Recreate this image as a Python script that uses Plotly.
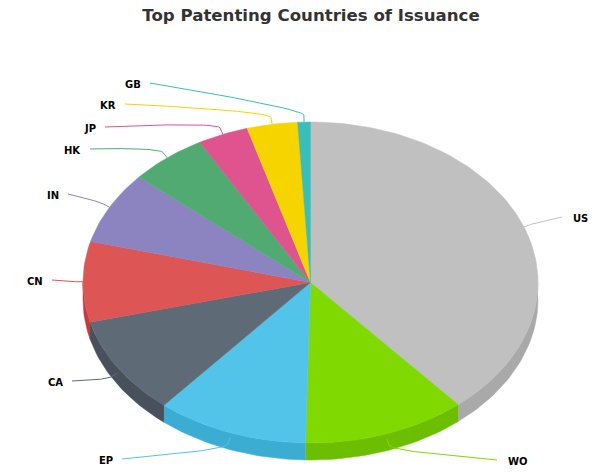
import numpy as np
import plotly.graph_objects as go

# Patents by country of issuance (share of the top ten)
countries = ["US", "WO", "EP", "CA", "CN", "IN", "HK", "JP", "KR", "GB"]
patents = [388, 116, 108, 99, 81, 73, 55, 36, 36, 9]

face_colors = ["#c0c0c0", "#80d900", "#52c4e9", "#5f6a77", "#dd5555",
               "#8b84c1", "#52aa73", "#df538e", "#f5d400", "#3bbdb9"]
wall_colors = ["#a9a9a9", "#6cbf00", "#3cadd2", "#48505b", "#c23c3c",
               "#7770ab", "#3f915e", "#c43f77", "#d8b900", "#2da3a0"]

# ---- canvas and tilted-pie projection -------------------------------------
W, H = 598, 472
CX, CY = 310.5, 282.5        # pie centre (px)
RX, RY = 227.5, 160.5        # projected radii (px)
DEPTH_PX = 17                # thickness of the pie (px)

x_range = [-CX / RX, (W - CX) / RX]
y_range = [-(H - CY) / RY, CY / RY]
depth = DEPTH_PX / RY


def px_to_data(px, py):
    return (px - CX) / RX, (CY - py) / RY


def data_to_px(x, y):
    return CX + x * RX, CY - y * RY


# label placement: connector start (px) and side of the text
label_layout = {
    "US": (562, 217, "right"),
    "WO": (497, 460, "right"),
    "EP": (122, 459, "left"),
    "CA": (72, 381, "left"),
    "CN": (52, 280, "left"),
    "IN": (68, 194, "left"),
    "HK": (90, 149, "left"),
    "JP": (105, 127, "left"),
    "KR": (125, 104, "left"),
    "GB": (150, 83, "left"),
}

# ---- slice angles (clockwise from 12 o'clock) -----------------------------
vals = np.array(patents, dtype=float)
frac = vals / vals.sum()
ends = np.cumsum(frac) * 2 * np.pi
starts = ends - frac * 2 * np.pi

fig = go.Figure()


def arc(a0, a1, n=120):
    t = np.linspace(a0, a1, max(4, int(n * (a1 - a0) / np.pi) + 4))
    return np.sin(t), np.cos(t)


# side walls (front half only: angles between 90 and 270 degrees)
for name, a0, a1, col in zip(countries, starts, ends, wall_colors):
    lo, hi = max(a0, np.pi / 2), min(a1, 3 * np.pi / 2)
    if hi <= lo:
        continue
    xs, ys = arc(lo, hi)
    px = np.concatenate([xs, xs[::-1]])
    py = np.concatenate([ys, ys[::-1] - depth])
    fig.add_trace(go.Scatter(
        x=px, y=py, mode="lines", fill="toself", fillcolor=col,
        line=dict(color=col, width=0.5), hoverinfo="skip", showlegend=False))

# top faces
for name, v, a0, a1, col in zip(countries, patents, starts, ends, face_colors):
    xs, ys = arc(a0, a1)
    px = np.concatenate([[0], xs, [0]])
    py = np.concatenate([[0], ys, [0]])
    fig.add_trace(go.Scatter(
        x=px, y=py, mode="lines", fill="toself", fillcolor=col,
        line=dict(color=col, width=0.5), name=name,
        hovertemplate=f"{name}: {v}<extra></extra>", showlegend=False))

# connectors and labels
annotations = []
for name, a0, a1, col in zip(countries, starts, ends, face_colors):
    mid = (a0 + a1) / 2
    ux, uy = np.sin(mid), np.cos(mid)
    bx, by = data_to_px(ux, uy)                 # where the line touches the slice
    if np.pi / 2 < mid < 3 * np.pi / 2:
        by += DEPTH_PX * 0.3
    kx, ky = bx + ux * 7, by - uy * 7            # break point just outside the rim
    sx, sy, side = label_layout[name]
    c2x, c2y = 2 * kx - bx, 2 * ky - by
    t = np.linspace(0, 1, 40)[:, None]
    p0 = np.array([sx, sy]); p1 = p0
    p2 = np.array([c2x, c2y]); p3 = np.array([kx, ky])
    curve = ((1 - t) ** 3) * p0 + 3 * ((1 - t) ** 2) * t * p1 \
        + 3 * (1 - t) * t ** 2 * p2 + t ** 3 * p3
    pts = np.vstack([curve, [[bx, by]]])
    dx, dy = px_to_data(pts[:, 0], pts[:, 1])
    fig.add_trace(go.Scatter(
        x=dx, y=dy, mode="lines", line=dict(color=col, width=1),
        hoverinfo="skip", showlegend=False))

    if side == "left":
        tx, anchor = sx - 7, "right"
    else:
        tx, anchor = sx + 9, "left"
    annotations.append(dict(
        x=tx / W, y=1 - (sy + 1.5) / H, xref="paper", yref="paper",
        text=f"<b>{name}</b>", showarrow=False, xanchor=anchor, yanchor="middle",
        font=dict(family="DejaVu Sans", size=10, color="#000000")))

fig.update_layout(
    width=W, height=H, autosize=False,
    margin=dict(l=0, r=0, t=0, b=0),
    paper_bgcolor="#ffffff", plot_bgcolor="#ffffff",
    title=dict(text="Top Patenting Countries of Issuance",
               x=311 / W, xanchor="center", y=1 - 15 / H, yanchor="middle",
               font=dict(family="DejaVu Sans", size=16.6, color="#333333",
                         weight="bold")),
    xaxis=dict(range=x_range, visible=False, fixedrange=True),
    yaxis=dict(range=y_range, visible=False, fixedrange=True),
    annotations=annotations,
    showlegend=False,
)

fig.write_html("out.html")
